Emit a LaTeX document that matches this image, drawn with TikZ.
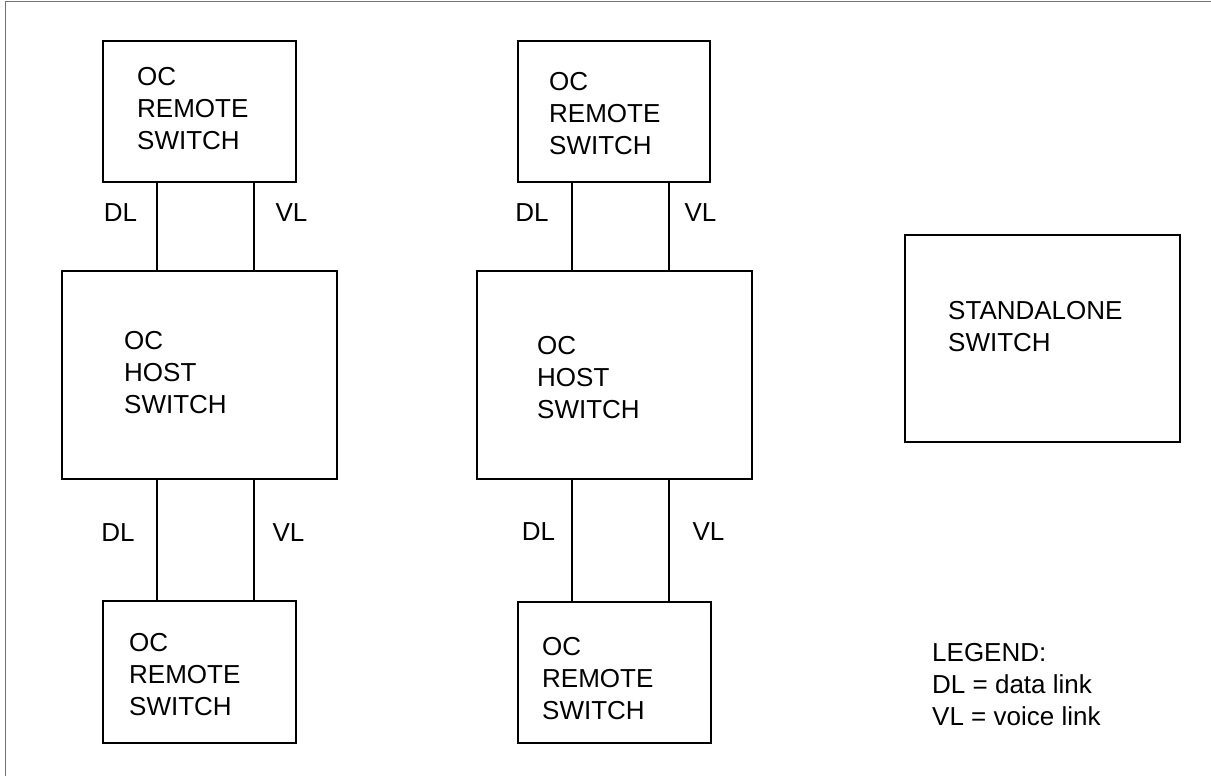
\documentclass[tikz,border=0pt]{standalone}
\usepackage{fontspec}
\newfontfamily\labfont{Liberation Sans}
\begin{document}
\begin{tikzpicture}[x=1pt,y=-1pt,
  box/.style={draw=black, line width=1.3pt, rectangle, inner sep=0pt},
  link/.style={draw=black, line width=1.3pt},
  txt/.style={font=\labfont\fontsize{26}{32}\selectfont, inner sep=0pt, anchor=north west, align=left},
  lbl/.style={font=\labfont\fontsize{26}{32}\selectfont, inner sep=0pt, anchor=center},
  frame/.style={draw=black!55, line width=1pt}]
\useasboundingbox (0,0) rectangle (1211,776);
% frame (top and left only)
\coordinate (ftl) at (5.5,1.5);
\coordinate (ftr) at (1211,1.5);
\coordinate (fbl) at (5.5,776);
\draw[frame] (ftr) -- (ftl) -- (fbl);

% ---------- left column ----------
\node[box, minimum width=193pt, minimum height=141pt] (TR1) at (199.5,111.5) {};
\node[box, minimum width=275pt, minimum height=208pt] (H1) at (199.5,375) {};
\node[box, minimum width=193pt, minimum height=142pt] (BR1) at (199.5,672) {};
\node[txt] (tTR1) at (137,67) {OC\\REMOTE\\SWITCH};
\node[txt] (tH1) at (124,331) {OC\\HOST\\SWITCH};
\node[txt] (tBR1) at (129,633) {OC\\REMOTE\\SWITCH};
\coordinate (d1) at (157,0);
\coordinate (v1) at (254,0);
\draw[link] (TR1.south -| d1) -- (H1.north -| d1);
\draw[link] (TR1.south -| v1) -- (H1.north -| v1);
\draw[link] (H1.south -| d1) -- (BR1.north -| d1);
\draw[link] (H1.south -| v1) -- (BR1.north -| v1);
\node[lbl] (dl1a) at (120.5,213) {DL};
\node[lbl] (vl1a) at (291.5,213) {VL};
\node[lbl] (dl1b) at (118,533) {DL};
\node[lbl] (vl1b) at (288.5,533) {VL};

% ---------- middle column ----------
\node[box, minimum width=192pt, minimum height=141pt] (TR2) at (614,111.5) {};
\node[box, minimum width=275pt, minimum height=208pt] (H2) at (614.5,375) {};
\node[box, minimum width=193pt, minimum height=141pt] (BR2) at (614.5,672.5) {};
\node[txt] (tTR2) at (549,72) {OC\\REMOTE\\SWITCH};
\node[txt] (tH2) at (537,336) {OC\\HOST\\SWITCH};
\node[txt] (tBR2) at (542,637) {OC\\REMOTE\\SWITCH};
\coordinate (d2) at (572,0);
\coordinate (v2) at (669,0);
\draw[link] (TR2.south -| d2) -- (H2.north -| d2);
\draw[link] (TR2.south -| v2) -- (H2.north -| v2);
\draw[link] (H2.south -| d2) -- (BR2.north -| d2);
\draw[link] (H2.south -| v2) -- (BR2.north -| v2);
\node[lbl] (dl2a) at (532,213) {DL};
\node[lbl] (vl2a) at (700.5,213) {VL};
\node[lbl] (dl2b) at (538.5,532) {DL};
\node[lbl] (vl2b) at (708.5,532) {VL};

% ---------- right side ----------
\node[box, minimum width=275pt, minimum height=207pt] (SA) at (1042.5,338.5) {};
\node[txt] (tSA) at (948,301) {STANDALONE\\SWITCH};
\node[txt] (leg) at (932,643) {LEGEND:\\DL = data link\\VL = voice link};
\end{tikzpicture}
\end{document}
